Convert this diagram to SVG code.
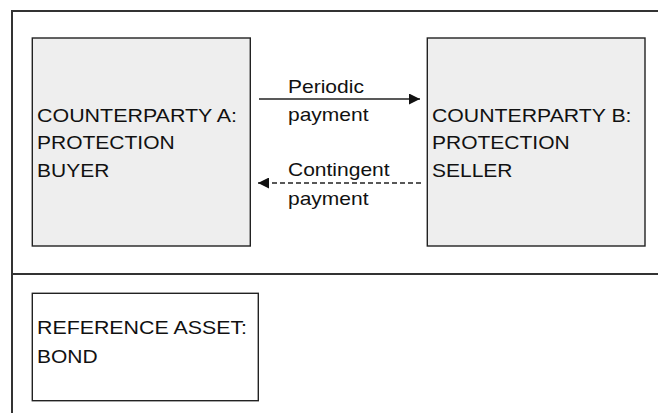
<svg xmlns="http://www.w3.org/2000/svg" width="658" height="413" viewBox="0 0 658 413">
<style>
.frame{stroke:#333;stroke-width:2;fill:none}
.box{stroke:#222;stroke-width:1.4}
.fill{fill:#eeeeee}
.white{fill:#ffffff}
text{font-family:"Liberation Sans",Arial,sans-serif;font-size:18.5px;fill:#111}
.conn{stroke:#222;stroke-width:1.4;fill:none}
.dash{stroke-dasharray:5,3}
</style>
<defs>
<marker id="ah" viewBox="0 0 11 11" refX="11" refY="5.5" markerWidth="11" markerHeight="11" markerUnits="userSpaceOnUse" orient="auto">
<path d="M0,0 L11,5.5 L0,11 Z" fill="#111"/>
</marker>
</defs>
<rect width="658" height="413" fill="#fff"/>
<g id="frame">
<path class="frame" d="M12,413 V11 H658"/>
<path class="frame" d="M12,274 H658" stroke-width="2.5"/>
</g>
<g id="nodeA">
<rect class="box fill" x="32.3" y="38" width="218" height="208"/>
<text x="37" y="121.5" textLength="200" lengthAdjust="spacingAndGlyphs">COUNTERPARTY A:</text>
<text x="37" y="148.5" textLength="137.7" lengthAdjust="spacingAndGlyphs">PROTECTION</text>
<text x="37" y="176.5" textLength="72.3" lengthAdjust="spacingAndGlyphs">BUYER</text>
</g>
<g id="nodeB">
<rect class="box fill" x="427.3" y="38" width="217.7" height="208"/>
<text x="432" y="121.5" textLength="199.5" lengthAdjust="spacingAndGlyphs">COUNTERPARTY B:</text>
<text x="432" y="148.5" textLength="137.7" lengthAdjust="spacingAndGlyphs">PROTECTION</text>
<text x="432" y="176.5" textLength="80.5" lengthAdjust="spacingAndGlyphs">SELLER</text>
</g>
<g id="nodeRef">
<rect class="box white" x="32.3" y="293.3" width="226" height="107.4"/>
<text x="37" y="333.5" textLength="210" lengthAdjust="spacingAndGlyphs">REFERENCE ASSET:</text>
<text x="37" y="362.5" textLength="60.7" lengthAdjust="spacingAndGlyphs">BOND</text>
</g>
<g id="connectors">
<path class="conn" d="M259,99 H420" marker-end="url(#ah)"/>
<text x="288" y="93.3" textLength="75.9" lengthAdjust="spacingAndGlyphs">Periodic</text>
<text x="288" y="121" textLength="80.5" lengthAdjust="spacingAndGlyphs">payment</text>
<path class="conn dash" d="M421,183 H258" marker-end="url(#ah)"/>
<text x="288" y="175.5" textLength="101.6" lengthAdjust="spacingAndGlyphs">Contingent</text>
<text x="288" y="205" textLength="80.5" lengthAdjust="spacingAndGlyphs">payment</text>
</g>
</svg>
